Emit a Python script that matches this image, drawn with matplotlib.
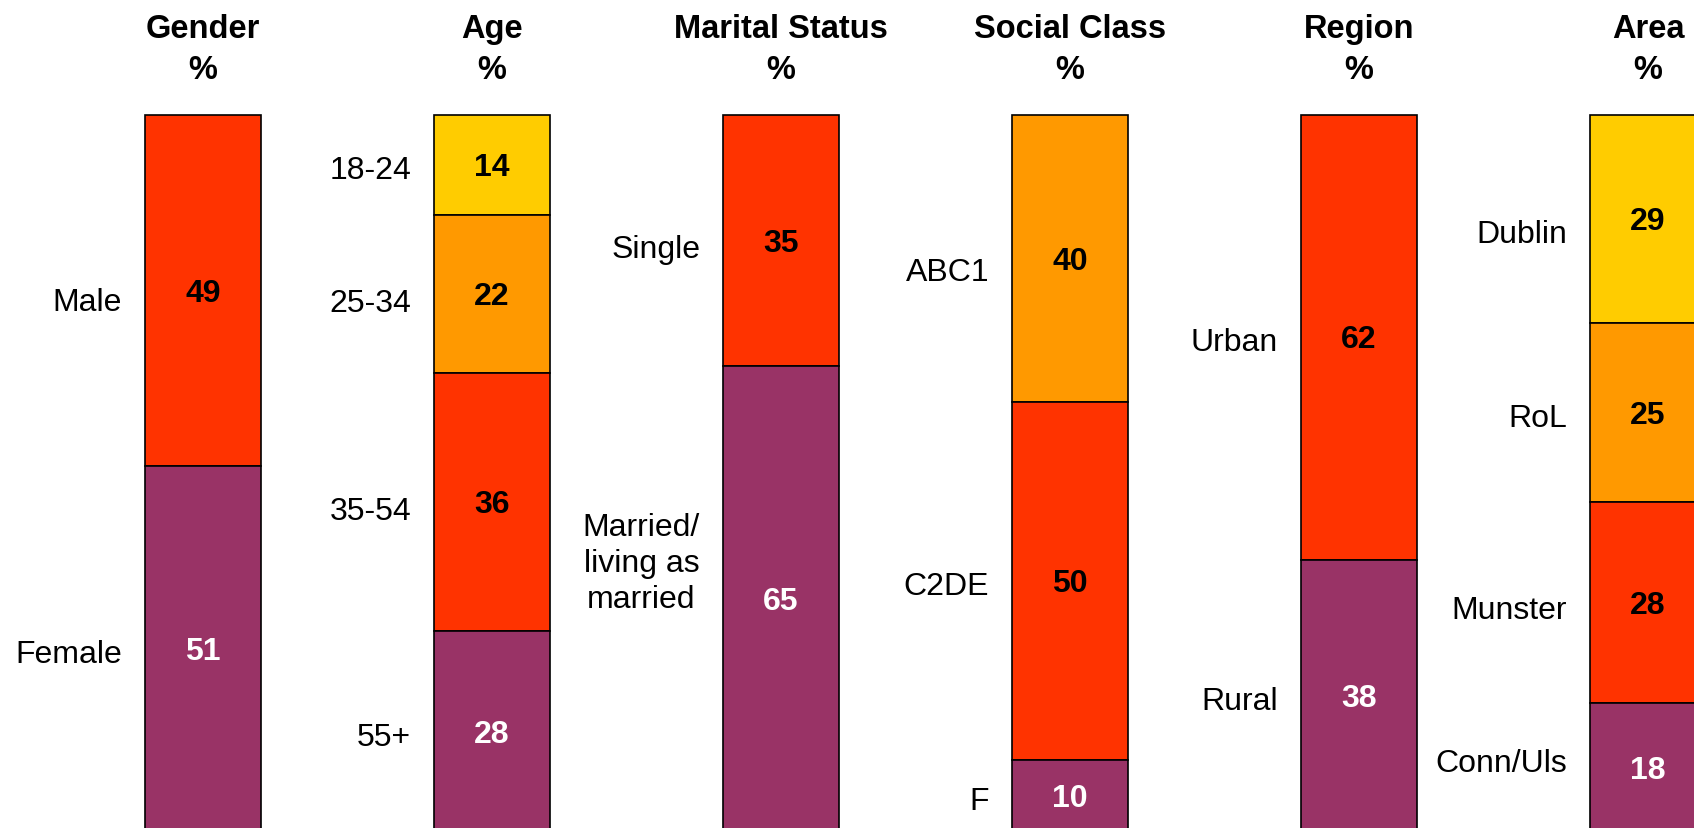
import matplotlib
matplotlib.use("Agg")
import matplotlib.pyplot as plt

plt.rcParams['font.family'] = ['Liberation Sans', 'DejaVu Sans']

# Chart data: one stacked column per demographic, segments listed top to bottom
groups = ['Gender', 'Age', 'Marital Status', 'Social Class', 'Region', 'Area']
gender_labels = ['Male', 'Female']
gender_values = [49, 51]
age_labels = ['18-24', '25-34', '35-54', '55+']
age_values = [14, 22, 36, 28]
marital_labels = ['Single', 'Married/\nliving as\nmarried']
marital_values = [35, 65]
class_labels = ['ABC1', 'C2DE', 'F']
class_values = [40, 50, 10]
region_labels = ['Urban', 'Rural']
region_values = [62, 38]
area_labels = ['Dublin', 'RoL', 'Munster', 'Conn/Uls']
area_values = [29, 25, 28, 18]

all_labels = [gender_labels, age_labels, marital_labels, class_labels, region_labels, area_labels]
all_values = [gender_values, age_values, marital_values, class_values, region_values, area_values]

# colour sequences, the bottom segment is always purple
RED, PURPLE, ORANGE, YELLOW = '#FF3300', '#993366', '#FF9900', '#FFCC00'
palettes = {
    2: [RED, PURPLE],
    3: [ORANGE, RED, PURPLE],
    4: [YELLOW, ORANGE, RED, PURPLE],
}

# small vertical nudges for a few category labels (in % units)
label_nudge = {'Male': 0.85, '25-34': 0.5, '35-54': 0.5, 'Single': 0.5,
               'Married/\nliving as\nmarried': -5.7, 'ABC1': 1.2, 'Dublin': 1.4,
               'Munster': 0.3, 'Conn/Uls': -1.3}

fig = plt.figure(figsize=(16.94, 8.29), dpi=100)
ax = fig.add_axes([0, 0, 1, 1])
ax.set_xlim(-0.7024, 5.159)
ax.set_ylim(99.44, -16.18)
ax.axis('off')

width = 0.40
fs = 23

for i, (name, labels, values) in enumerate(zip(groups, all_labels, all_values)):
    colors = palettes[len(values)]
    bottom = 0
    for lab, val, col in zip(labels, values, colors):
        ax.bar(i, val, width=width, bottom=bottom, color=col,
               edgecolor='black', linewidth=1.2, align='center')
        mid = bottom + val / 2
        txt_col = 'white' if col == PURPLE else 'black'
        ax.text(i, mid + 0.3, str(val), ha='center', va='center', fontsize=fs,
                fontweight='bold', color=txt_col)
        ax.text(i - width / 2 - 0.08, mid + 0.7 + label_nudge.get(lab, 0), lab,
                ha='right', va='center', multialignment='center', fontsize=fs,
                linespacing=1.25)
        bottom += val
    ax.text(i, -12.0, name, ha='center', va='center', fontsize=23.5, fontweight='bold')
    ax.text(i, -6.4, '%', ha='center', va='center', fontsize=23.5, fontweight='bold')

fig.savefig('out.png', dpi=100)
